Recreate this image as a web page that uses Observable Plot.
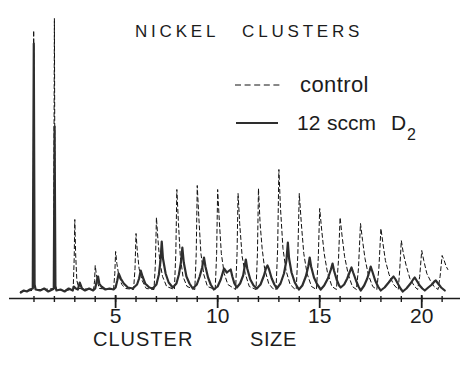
<!DOCTYPE html>
<html><head><meta charset="utf-8">
<script src="https://cdn.jsdelivr.net/npm/d3@7"></script>
<script src="https://cdn.jsdelivr.net/npm/@observablehq/plot@0.6"></script>
<style>
html,body{margin:0;padding:0;background:#fff;}
#chart{position:relative;width:470px;height:365px;overflow:hidden;background:#fff;}
#chart > svg{position:absolute;left:0;top:0;}
</style></head><body><div id="chart"></div>
<script>
// ---- data ----
const clusterTicks = [1,2,3,4,5,6,7,8,9,10,11,12,13,14,15,16,17,18,19,20,21];
const majorTicks = [5,10,15,20];
const titleWords = ["NICKEL", "CLUSTERS"];
const legendControl = "control";
const legendD2 = ["12", "sccm", "D", "2"];
const axisTitleWords = ["CLUSTER", "SIZE"];

// control (dashed): [cluster size, intensity]
const controlSpectrum = [
[0.35,7],[0.9,8],[0.96,10],[0.985,268],[1.02,14],[1.06,9],[1.5,9],
[1.96,10],[2.0,280],[2.04,14],[2.1,9],[2.5,8],
[2.92,9],[2.97,40],[3.0,79],[3.04,45],[3.1,18],[3.2,10],
[3.92,9],[3.97,18],[4.0,33],[4.05,25],[4.12,16],[4.2,10],
[4.9,9],[4.96,25],[5.0,47],[5.06,35],[5.14,25],[5.3,14],[5.5,10],
[5.88,9],[5.95,30],[6.0,65],[6.06,48],[6.15,30],[6.3,18],[6.5,10],
[6.88,9],[6.95,35],[7.0,81],[7.07,60],[7.16,38],[7.3,22],[7.5,12],
[7.88,9],[7.95,45],[8.0,109],[8.08,75],[8.17,42],[8.3,22],[8.5,12],
[8.88,9],[8.95,45],[9.0,113],[9.08,80],[9.18,45],[9.32,24],[9.5,12],
[9.88,9],[9.95,45],[10.0,109],[10.08,78],[10.18,45],[10.32,25],[10.5,14],
[10.88,9],[10.95,45],[11.0,105],[11.08,75],[11.2,42],[11.35,25],[11.55,12],
[11.88,9],[11.95,45],[12.0,110],[12.08,75],[12.18,50],[12.3,30],[12.5,15],[12.7,10],
[12.86,9],[12.94,50],[13.0,129],[13.08,90],[13.2,50],[13.35,28],[13.55,14],[13.75,10],
[13.85,9],[13.93,45],[14.0,105],[14.1,75],[14.22,45],[14.38,25],[14.6,12],
[14.84,9],[14.93,40],[15.0,90],[15.1,68],[15.22,45],[15.38,26],[15.6,12],
[15.82,9],[15.92,38],[16.0,81],[16.1,62],[16.22,42],[16.4,24],[16.6,12],
[16.8,9],[16.9,30],[17.0,75],[17.1,58],[17.22,40],[17.38,24],[17.6,12],
[17.8,9],[17.9,30],[18.0,70],[18.1,55],[18.22,38],[18.4,24],[18.62,14],[18.8,10],
[18.85,9],[18.92,28],[19.0,58],[19.1,45],[19.25,32],[19.42,20],[19.65,12],
[19.8,9],[19.9,22],[20.0,48],[20.1,38],[20.25,25],[20.42,18],[20.6,12],
[20.8,9],[20.9,22],[21.0,43],[21.1,38],[21.2,32],[21.28,29]
];

// 12 sccm D2 (solid): [cluster size, intensity]
const d2Spectrum = [
[0.35,6],[0.5,8],[0.65,7],[0.8,9],[0.94,10],[0.99,255],[1.03,14],[1.08,9],
[1.3,8],[1.5,10],[1.7,7],[1.9,9],[1.97,10],[2.01,172],[2.05,12],[2.1,8],
[2.3,9],[2.5,7],[2.7,10],[2.9,8],[2.95,12],[3.05,10],[3.15,9],[3.24,16],[3.35,10],[3.5,8],[3.7,10],[3.9,8],
[4.0,10],[4.08,18],[4.14,22],[4.2,15],[4.3,12],[4.5,9],[4.7,10],[4.9,9],
[5.0,11],[5.08,18],[5.15,25],[5.25,20],[5.4,15],[5.6,11],
[5.84,10],[6.05,14],[6.15,20],[6.23,28],[6.32,22],[6.45,15],[6.65,11],
[6.82,10],[7.0,14],[7.12,24],[7.2,38],[7.26,57],[7.32,40],[7.45,25],[7.6,16],
[7.8,11],[7.98,15],[8.1,24],[8.2,36],[8.27,51],[8.34,36],[8.47,22],[8.62,15],
[8.78,10],[8.98,14],[9.12,22],[9.24,31],[9.33,41],[9.4,32],[9.53,21],[9.66,14],
[9.81,9],[10.0,12],[10.15,19],[10.31,30],[10.45,26],[10.64,29],[10.72,22],[10.82,15],
[10.94,11],[11.1,15],[11.25,23],[11.38,39],[11.45,30],[11.6,19],[11.76,13],
[11.92,10],[12.1,14],[12.27,23],[12.38,31],[12.44,33],[12.52,29],[12.65,20],[12.78,14],
[12.9,10],[13.08,15],[13.25,25],[13.37,38],[13.44,56],[13.5,40],[13.62,26],[13.78,16],
[13.98,9],[14.15,13],[14.32,22],[14.44,32],[14.51,41],[14.58,32],[14.72,21],[14.88,14],
[15.05,9],[15.22,13],[15.4,20],[15.55,29],[15.63,35],[15.7,28],[15.83,19],[15.95,13],
[16.03,11],[16.2,14],[16.35,20],[16.48,27],[16.56,31],[16.64,26],[16.78,18],[16.9,12],
[17.01,8],[17.18,13],[17.33,20],[17.45,28],[17.5,32],[17.58,27],[17.72,18],[17.86,12],
[17.99,8],[18.18,11],[18.38,16],[18.53,20],[18.62,22],[18.72,19],[18.85,14],[18.96,10],
[19.07,7],[19.25,10],[19.45,15],[19.58,19],[19.66,21],[19.75,18],[19.9,13],[20.03,10],
[20.15,8],[20.32,11],[20.5,14],[20.62,17],[20.69,18],[20.8,15],[20.95,11],[21.13,8]
];

const ink = "#1c1c1c";
const font = "'Liberation Sans', Arial, sans-serif";

const plot = Plot.plot({
  width: 470, height: 365,
  marginLeft: 9, marginRight: 10, marginTop: 18, marginBottom: 67,
  x: {domain: [-0.2, 21.9]},
  y: {domain: [0, 280], axis: null},
  style: {background: "transparent", fontFamily: font, color: ink, overflow: "visible"},
  marks: [
    Plot.line(controlSpectrum, {x: d => d[0], y: d => d[1], stroke: "#111", strokeWidth: 1, strokeDasharray: "4,3"}),
    Plot.line(d2Spectrum, {x: d => d[0], y: d => d[1], stroke: "#2e2e2e", strokeWidth: 2.2, strokeLinejoin: "round"}),
    Plot.ruleY([0], {stroke: ink, strokeWidth: 1.6}),
    Plot.ruleX(clusterTicks, {x: d => d, y1: -4, y2: 2, stroke: ink, strokeWidth: 1.4}),
    Plot.ruleX(majorTicks, {x: d => d, y1: -10, y2: 3, stroke: ink, strokeWidth: 1.8}),
    Plot.axisX(majorTicks, {tickSize: 0, tickPadding: 10, fontSize: 21, label: null, fill: ink})
  ]
});
const chart = document.getElementById("chart");
chart.appendChild(plot);

// annotations (title, legend, axis title) as real text
const ns = "http://www.w3.org/2000/svg";
const ann = d3.create("svg").attr("xmlns", ns).attr("width", 470).attr("height", 365)
  .style("font-family", font).style("fill", ink);
ann.append("text").attr("x", 135).attr("y", 37).attr("font-size", 17)
  .attr("letter-spacing", 3.8).attr("word-spacing", 15).text(titleWords.join(" "));
ann.append("line").attr("x1", 235).attr("x2", 282).attr("y1", 85).attr("y2", 85)
  .attr("stroke", "#111").attr("stroke-width", 1).attr("stroke-dasharray", "6,3.6");
ann.append("text").attr("x", 300).attr("y", 91.5).attr("font-size", 22).attr("letter-spacing", 0.4).text(legendControl);
ann.append("line").attr("x1", 236).attr("x2", 278).attr("y1", 123).attr("y2", 123)
  .attr("stroke", "#2e2e2e").attr("stroke-width", 2.2);
const t2 = ann.append("text").attr("y", 130).attr("font-size", 21);
t2.append("tspan").attr("x", 297).text(legendD2[0]);
t2.append("tspan").attr("x", 327).text(legendD2[1]);
t2.append("tspan").attr("x", 391).text(legendD2[2]);
t2.append("tspan").attr("x", 407).attr("y", 140).attr("font-size", 16).text(legendD2[3]);
ann.append("text").attr("x", 93).attr("y", 346).attr("font-size", 20).attr("letter-spacing", 1).text(axisTitleWords[0]);
ann.append("text").attr("x", 250).attr("y", 346).attr("font-size", 20).attr("letter-spacing", 0.6).text(axisTitleWords[1]);
chart.appendChild(ann.node());
</script></body></html>
